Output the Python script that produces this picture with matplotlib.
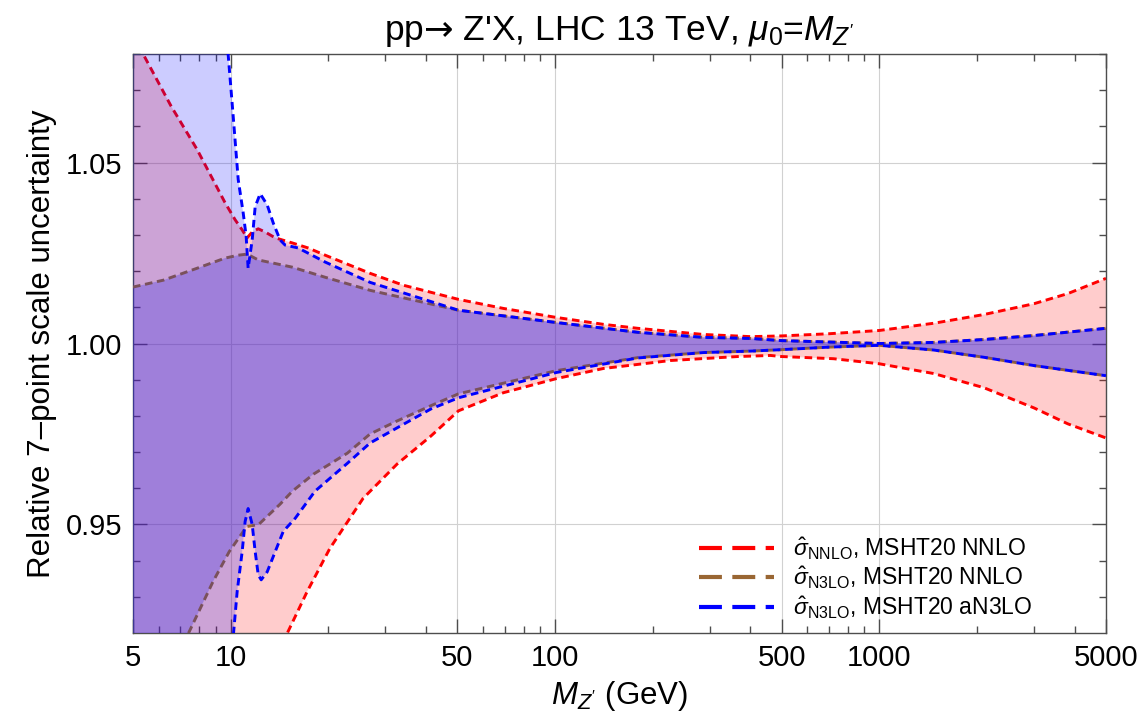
import matplotlib
matplotlib.use('Agg')
import numpy as np
import matplotlib.pyplot as plt
from matplotlib.lines import Line2D

plt.rcParams['font.family'] = ['Liberation Sans', 'DejaVu Sans']
plt.rcParams['mathtext.fontset'] = 'custom'
plt.rcParams['mathtext.rm'] = 'Liberation Sans'
plt.rcParams['mathtext.it'] = 'Liberation Sans:italic'
plt.rcParams['mathtext.bf'] = 'Liberation Sans:bold'
plt.rcParams['mathtext.sf'] = 'DejaVu Sans'

# sigma_NNLO, MSHT20 NNLO band (upper / lower edge)
m_nnlo_hi = [5, 5.37, 6.55, 7.88, 9.61, 10.32, 10.85, 11.24, 11.65, 12.16, 12.78, 13.72,
             15.48, 17.34, 19.57, 26.9, 34.1, 50.4, 69.3, 101, 141, 180, 287, 401, 500,
             700, 1000, 1472, 2100, 3000, 3815, 5000]
nnlo_hi = [1.0853, 1.0800, 1.0656, 1.0536, 1.0389, 1.0342, 1.0314, 1.0292, 1.0308, 1.0317,
           1.0308, 1.0292, 1.0278, 1.0264, 1.0244, 1.0194, 1.0161, 1.0122, 1.0097, 1.0072,
           1.0053, 1.0042, 1.0025, 1.0019, 1.0021, 1.0027, 1.0036, 1.0056, 1.0080, 1.0110,
           1.0138, 1.0180]
m_nnlo_lo = [5, 10, 14.9, 17.2, 20.2, 25.6, 32.6, 41.4, 50.4, 69.3, 101, 141, 227, 366, 462,
             500, 723, 1000, 1472, 2100, 3000, 3815, 5000]
nnlo_lo = [0.830, 0.887, 0.9197, 0.9314, 0.9433, 0.9572, 0.9667, 0.9744, 0.9814, 0.9864,
           0.9903, 0.9931, 0.9953, 0.9964, 0.9967, 0.9964, 0.9958, 0.9944, 0.9917, 0.9878,
           0.9822, 0.9778, 0.9739]

# sigma_N3LO, MSHT20 NNLO band
m_n3lo_hi = [5, 6.2, 7.88, 9.61, 10.55, 11.24, 12.16, 15.48, 19.57, 26.9, 50.4, 101, 180,
             287, 401, 500, 1000, 1472, 2100, 3000, 5000]
n3lo_hi = [1.0156, 1.0175, 1.0208, 1.0236, 1.0244, 1.0247, 1.0231, 1.0211, 1.0183, 1.0147,
           1.0092, 1.0058, 1.0031, 1.0017, 1.0014, 1.0008, 1.0000, 1.0003, 1.0011, 1.0022,
           1.0042]
m_n3lo_lo = [5, 7.39, 8.82, 9.9, 11.2, 12.2, 14.2, 15.5, 18.0, 22.9, 26.9, 32.6, 41.4, 50.4,
             101, 180, 287, 401, 500, 700, 1000, 1472, 2100, 3000, 5000]
n3lo_lo = [0.889, 0.9197, 0.9342, 0.9425, 0.9494, 0.9500, 0.9556, 0.9592, 0.9639, 0.9697,
           0.9750, 0.9786, 0.9828, 0.9861, 0.9925, 0.9961, 0.9975, 0.9979, 0.9983, 0.9990,
           0.9995, 0.9982, 0.9962, 0.9939, 0.9911]

# sigma_N3LO, MSHT20 aN3LO band
m_an3lo_hi = [5, 9.4, 9.82, 10.17, 10.55, 10.93, 11.16, 11.32, 11.65, 11.90, 12.33, 12.96,
              13.53, 14.21, 14.72, 16.15, 19.57, 26.9, 50.4, 101, 180, 287, 401, 500, 1000,
              1472, 2100, 3000, 5000]
an3lo_hi = [1.100, 1.090, 1.0800, 1.0633, 1.0453, 1.0361, 1.0297, 1.0208, 1.0286, 1.0378,
            1.0414, 1.0383, 1.0333, 1.0286, 1.0272, 1.0264, 1.0225, 1.0169, 1.0092, 1.0058,
            1.0031, 1.0017, 1.0014, 1.0008, 1.0000, 1.0003, 1.0011, 1.0022, 1.0042]
m_an3lo_lo = [5, 7.4, 9.0, 9.8, 10.2, 10.47, 10.85, 11.08, 11.32, 11.65, 11.90, 12.16, 12.42,
              12.96, 13.72, 14.53, 15.81, 18.2, 22.9, 26.9, 32.6, 41.4, 50.4, 101, 180, 287,
              401, 500, 700, 1000, 1472, 2100, 3000, 5000]
an3lo_lo = [0.9194, 0.9194, 0.915, 0.906, 0.9197, 0.9314, 0.9425, 0.9508, 0.9544, 0.9500,
            0.9425, 0.9361, 0.9347, 0.9369, 0.9425, 0.9481, 0.9517, 0.9592, 0.9669, 0.9725,
            0.9767, 0.9819, 0.9850, 0.9920, 0.9960, 0.9975, 0.9979, 0.9983, 0.9990, 0.9995,
            0.9982, 0.9962, 0.9939, 0.9911]

labels = [r"$\hat{\sigma}_{\mathrm{NNLO}}$, MSHT20 NNLO",
          r"$\hat{\sigma}_{\mathrm{N3LO}}$, MSHT20 NNLO",
          r"$\hat{\sigma}_{\mathrm{N3LO}}$, MSHT20 aN3LO"]

x_major = [5, 10, 50, 100, 500, 1000, 5000]
x_minor = [6, 7, 8, 9, 20, 30, 40, 60, 70, 80, 90, 200, 300, 400, 600, 700, 800, 900,
           2000, 3000, 4000]
y_major = [0.95, 1.00, 1.05]

red = (1.0, 0.0, 0.0)
brown = (0.6, 0.4, 0.2)
blue = (0.0, 0.0, 1.0)


def band(ax, mh, yh, ml, yl, fc, alpha, lc, z):
    xs = np.concatenate([mh, ml[::-1]])
    ys = np.concatenate([yh, yl[::-1]])
    ax.fill(xs, ys, color=fc, alpha=alpha, lw=0, zorder=z)
    for m, y in [(mh, yh), (ml, yl)]:
        ax.plot(m, y, color=lc, lw=2.1, dashes=(2.6, 1.6), zorder=z + 0.5)


fig = plt.figure(figsize=(11.43, 7.2), dpi=100)
ax = fig.add_axes([0.1164, 0.1208, 0.8512, 0.8042])

band(ax, np.array(m_nnlo_hi), np.array(nnlo_hi), np.array(m_nnlo_lo), np.array(nnlo_lo),
     red, 0.2, red, 2)
band(ax, np.array(m_n3lo_hi), np.array(n3lo_hi), np.array(m_n3lo_lo), np.array(n3lo_lo),
     (0.28, 0.22, 0.89), 0.3, brown, 4)
band(ax, np.array(m_an3lo_hi), np.array(an3lo_hi), np.array(m_an3lo_lo), np.array(an3lo_lo),
     blue, 0.2, blue, 6)

ax.set_xscale('log')
ax.set_xlim(5, 5000)
ax.set_ylim(0.92, 1.08)
ax.set_xticks(x_major)
ax.set_xticklabels([str(v) for v in x_major])
ax.set_xticks(x_minor, minor=True)
ax.set_xticklabels([], minor=True)
ax.set_yticks(y_major)
ax.set_yticklabels(['%.2f' % v for v in y_major])
ax.set_yticks(np.arange(0.93, 1.08, 0.01), minor=True)

ax.grid(True, which='major', color='0.82', lw=0.8)
ax.set_axisbelow(True)
ax.tick_params(which='both', direction='in', top=True, right=True, color='0.3',
               labelsize=21, pad=8)
ax.tick_params(which='major', length=10, width=1.0)
ax.tick_params(which='minor', length=5, width=1.0)
for s in ax.spines.values():
    s.set_color('0.3')
    s.set_linewidth(1.0)

ax.set_title("pp$\\mathsf{\u2192}$ Z'X, LHC 13 TeV, $\\mu_0$=$M_{Z'}$",
             fontsize=25.5, pad=10)
ax.set_xlabel("$M_{Z'}$ (GeV)", fontsize=22.5, labelpad=5)
ax.set_ylabel("Relative 7\u2013point scale uncertainty", fontsize=22.5, labelpad=6)

handles = [Line2D([], [], color=c, lw=3.0, dashes=(5.5, 2.5)) for c in (red, brown, blue)]
ax.legend(handles, labels, loc='lower right', bbox_to_anchor=(0.945, -0.015), frameon=False,
          fontsize=16.5, handlelength=3.3, handletextpad=0.8, labelspacing=0.15)

fig.savefig('out.png', dpi=100)
